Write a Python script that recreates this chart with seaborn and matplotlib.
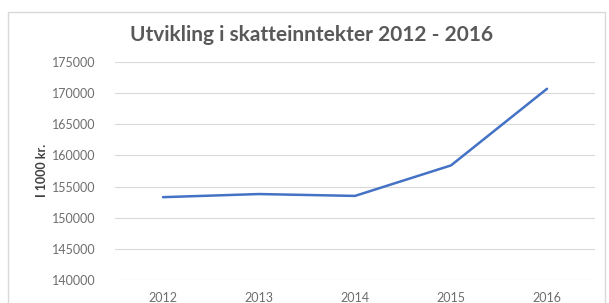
import matplotlib
matplotlib.use("Agg")
import matplotlib.pyplot as plt
import seaborn as sns
import pandas as pd
from matplotlib.patches import Rectangle

years = ["2012", "2013", "2014", "2015", "2016"]
values = [153300, 153800, 153500, 158400, 170700]
yticks = [140000, 145000, 150000, 155000, 160000, 165000, 170000, 175000]
title = "Utvikling i skatteinntekter 2012 - 2016"
ylabel = "I 1000 kr."

sns.set_theme(style="white")
plt.rcParams['font.family'] = ['Lato', 'DejaVu Sans']

W, H = 609, 303
fig = plt.figure(figsize=(W / 100, H / 100), dpi=100)
ax = fig.add_axes([115 / W, 1 - 280 / H, 480 / W, 218 / H])

df = pd.DataFrame({"year": years, "value": values})
sns.lineplot(data=df, x="year", y="value", ax=ax, color="#4472C4", linewidth=1.8)

ax.set_xlim(-0.5, len(years) - 0.5)
ax.set_ylim(yticks[0], yticks[-1])
ax.set_yticks(yticks)
ax.set_yticklabels([str(v) for v in yticks])
ax.yaxis.grid(True, color="#D9D9D9", linewidth=0.8)
ax.set_axisbelow(True)
for s in ax.spines.values():
    s.set_visible(False)
ax.tick_params(axis="both", length=0, labelsize=9, colors="#6E6E6E")
ax.tick_params(axis="y", pad=14)
ax.tick_params(axis="x", pad=9)
ax.set_xlabel("")
ax.set_ylabel("")

fig.text(42 / W, 1 - 170 / H, ylabel, rotation=90, ha="center", va="center",
         fontsize=9, fontweight="bold", color="#404040")
fig.text(312 / W, 1 - 35 / H, title, ha="center", va="center",
         fontsize=15, fontweight="bold", color="#595959")

fig.patches.append(Rectangle((8 / W, -0.05), 597 / W, 1 - 12 / H + 0.05,
                             transform=fig.transFigure, fill=False,
                             edgecolor="#D9D9D9", linewidth=1.0))

fig.savefig("out.png", dpi=100, facecolor="white")
